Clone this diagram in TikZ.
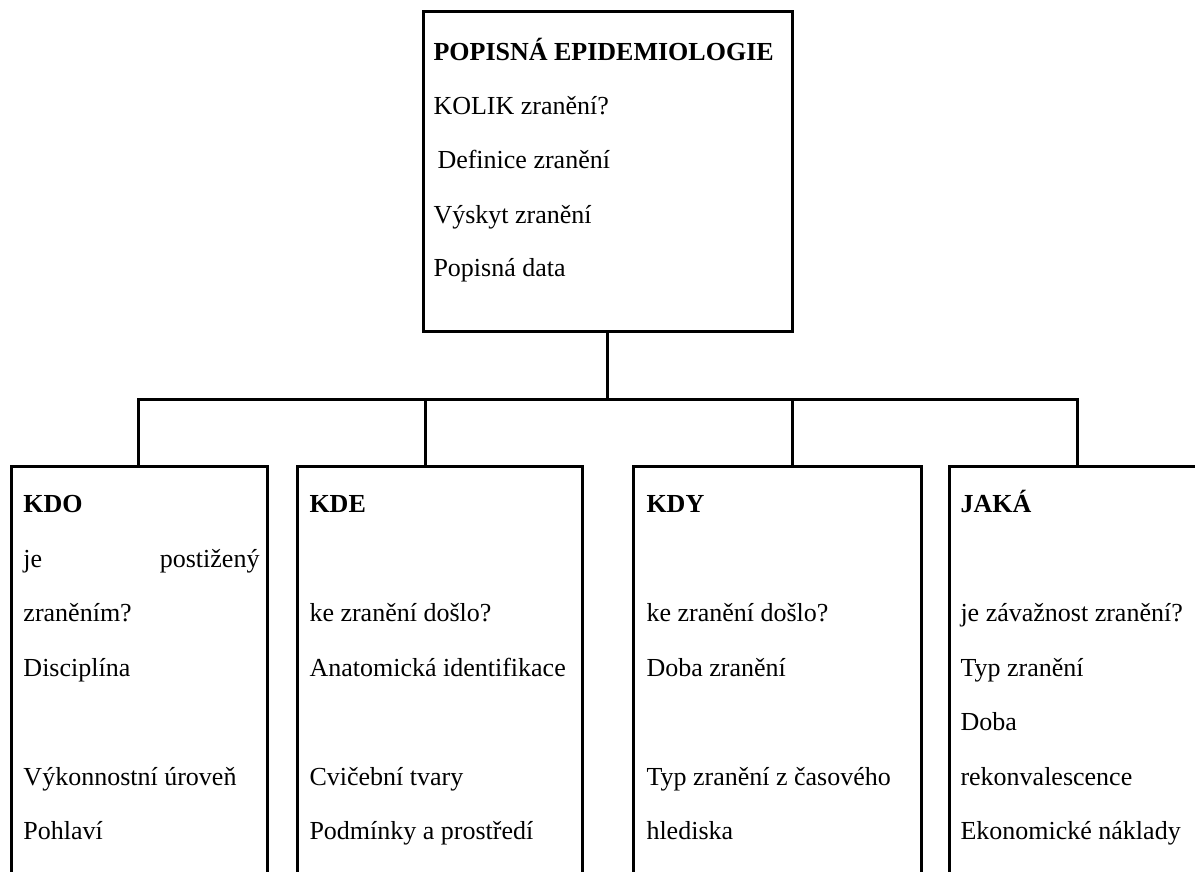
\documentclass[tikz,border=0pt]{standalone}
\usepackage{fontspec}
\setmainfont{LiberationSerif}[Extension=.ttf,UprightFont=*-Regular,BoldFont=*-Bold]
\usetikzlibrary{positioning}
\newcommand\U{0.5pt}

\begin{document}
\begin{tikzpicture}[x=\U,y=-\U,line width=1.5pt,
                    font=\fontsize{13}{16}\selectfont]

  \tikzstyle{box}=[draw,rectangle,inner sep=0pt]
  \tikzstyle{txt}=[anchor=base west,inner sep=0pt]
  \tikzstyle{head}=[txt,font=\fontsize{13}{16}\selectfont\bfseries]

  \clip (0,0) rectangle (1195,872);

  % boxes
  \node[box,minimum width=369*\U,minimum height=319*\U] (EPI)  at (607.5,171.5) {};
  \node[box,minimum width=256*\U,minimum height=454*\U] (KDO)  at (139,693)     {};
  \node[box,minimum width=285*\U,minimum height=454*\U] (KDE)  at (439.5,693)   {};
  \node[box,minimum width=288*\U,minimum height=454*\U] (KDY)  at (777,693)     {};
  \node[box,minimum width=287*\U,minimum height=454*\U] (JAKA) at (1092.5,693)  {};

  % tree lines
  \coordinate (J) at (607.5,399.5);
  \draw (EPI.south) -- (J);
  \draw (J) -| ([xshift=-1*\U]KDO.north);
  \draw (J) -| ([xshift=-14.5*\U]KDE.north);
  \draw (J) -| ([xshift=15*\U]KDY.north);
  \draw (J) -| ([xshift=-15.5*\U]JAKA.north);

  % top box text
  \node[head] (epi0) at (432,61)  {POPISNÁ EPIDEMIOLOGIE};
  \node[txt]  (epi1) at (432,115) {KOLIK zranění?};
  \node[txt]  (epi2) at (436,169) {Definice zranění};
  \node[txt]  (epi3) at (432,223) {Výskyt zranění};
  \node[txt]  (epi4) at (432,277) {Popisná data};

  % KDO
  \node[head] (kdo0) at (22,512) {KDO};
  \node[txt]  (kdo1) at (22,567) {\makebox[118pt][s]{je postižený}};
  \node[txt]  (kdo2) at (22,621) {zraněním?};
  \node[txt]  (kdo3) at (22,676) {Disciplína};
  \node[txt]  (kdo4) at (22,785) {Výkonnostní úroveň};
  \node[txt]  (kdo5) at (22,839) {Pohlaví};

  % KDE
  \node[head] (kde0) at (308,512) {KDE};
  \node[txt]  (kde1) at (308,621) {ke zranění došlo?};
  \node[txt]  (kde2) at (308,676) {Anatomická identifikace};
  \node[txt]  (kde3) at (308,785) {Cvičební tvary};
  \node[txt]  (kde4) at (308,839) {Podmínky a prostředí};

  % KDY
  \node[head] (kdy0) at (645,512) {KDY};
  \node[txt]  (kdy1) at (645,621) {ke zranění došlo?};
  \node[txt]  (kdy2) at (645,676) {Doba zranění};
  \node[txt]  (kdy3) at (645,785) {Typ zranění z časového};
  \node[txt]  (kdy4) at (645,839) {hlediska};

  % JAKA
  \node[head] (jaka0) at (959,512) {JAKÁ};
  \node[txt]  (jaka1) at (959,621) {je závažnost zranění?};
  \node[txt]  (jaka2) at (959,676) {Typ zranění};
  \node[txt]  (jaka3) at (959,730) {Doba};
  \node[txt]  (jaka4) at (959,785) {rekonvalescence};
  \node[txt]  (jaka5) at (959,839) {Ekonomické náklady};

\end{tikzpicture}
\end{document}
